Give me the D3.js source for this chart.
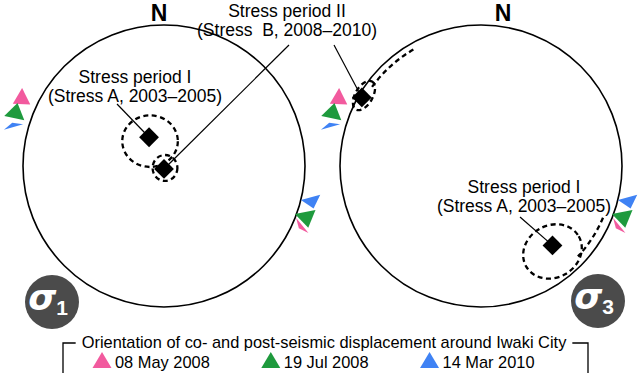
<!DOCTYPE html>
<html>
<head>
<meta charset="utf-8">
<script src="https://cdn.jsdelivr.net/npm/d3@7"></script>
<style>
  body { margin: 0; background: #fff; }
  svg { display: block; font-family: "Liberation Sans", Arial, sans-serif; }
</style>
</head>
<body>
<svg id="chart" width="640" height="373"></svg>
<script>
// Stereonet stress orientations (unit-circle coordinates, y up)
const periodNames = ['Stress period I', 'Stress period II'];
const periodStress = ['(Stress A, 2003\u20132005)', '(Stress  B, 2008\u20132010)'];
const sigma1Points = [[-0.106, 0.204], [0.0, -0.021]];
const sigma3Points = [[0.507, -0.563], [-0.845, 0.486]];
// error ellipses: [cx, cy, rx, ry, rotation]
const sigma1Errors = [[-0.099, 0.176, 0.197, 0.183, 0], [0.007, -0.014, 0.088, 0.092, 0]];
const sigma3Errors = [[0.507, -0.606, 0.215, 0.185, -30], [-0.83, 0.5, 0.115, 0.062, -60]];
// wrapped parts of the sigma3 error ellipses along the primitive circle: [az0, az1, radius]
const sigma3Arcs = [[-54, -29, 0.955], [113, 133, 0.94]];

// displacement orientation glyphs (same in both panels)
const dispDates = ['08 May 2008', '19 Jul 2008', '14 Mar 2010'];
const dispColors = ['#f25a9e', '#1e9a3d', '#3f82f4'];
// [event index, azimuth, distance, base width, height, rotation]
const dispGlyphs = [
  [0, -64.7, 1.116, 17.5, 16, 2],
  [1, -70.4, 1.119, 20.5, 15.5, 12],
  [2, -75.0, 1.108, 20, 4.5, -16],
  [2, 103.4, 1.076, 20, 11.5, 165],
  [1, 109.8, 1.072, 21, 16, 169],
  [0, 113.8, 1.063, 19.5, 4.5, 231]
];

const svg = d3.select('#chart');
const R = 141;
const panels = [
  { cx: 164, cy: 166, sub: '1', points: sigma1Points, errors: sigma1Errors, arcs: [], nx: 159, badge: [52, 302] },
  { cx: 481, cy: 166, sub: '3', points: sigma3Points, errors: sigma3Errors, arcs: sigma3Arcs, nx: 503, badge: [598, 301] }
];

panels.forEach(p => {
  const x = d3.scaleLinear().domain([-1, 1]).range([p.cx - R, p.cx + R]);
  const y = d3.scaleLinear().domain([-1, 1]).range([p.cy + R, p.cy - R]);
  p.x = x; p.y = y;
  const g = svg.append('g');

  g.append('circle')
    .attr('cx', x(0)).attr('cy', y(0)).attr('r', R)
    .attr('fill', 'none').attr('stroke', '#000').attr('stroke-width', 1.6);

  g.append('text')
    .attr('x', p.nx).attr('y', 21)
    .attr('text-anchor', 'middle')
    .attr('font-size', 23).attr('font-weight', 'bold')
    .text('N');

  // error ellipses
  g.selectAll('.err').data(p.errors).enter().append('ellipse')
    .attr('transform', d => `translate(${x(d[0])},${y(d[1])}) rotate(${d[4]})`)
    .attr('rx', d => x(d[2]) - x(0))
    .attr('ry', d => x(d[3]) - x(0))
    .attr('fill', 'none').attr('stroke', '#000')
    .attr('stroke-width', 2.3).attr('stroke-dasharray', '5,3.5');

  g.selectAll('.wrap').data(p.arcs).enter().append('path')
    .attr('d', d => {
      const rr = x(d[2]) - x(0);
      const pa = d3.path();
      const a0 = (d[0] - 90) * Math.PI / 180, a1 = (d[1] - 90) * Math.PI / 180;
      pa.moveTo(x(0) + rr * Math.cos(a0), y(0) + rr * Math.sin(a0));
      pa.arc(x(0), y(0), rr, a0, a1);
      return pa.toString();
    })
    .attr('fill', 'none').attr('stroke', '#000')
    .attr('stroke-width', 2.3).attr('stroke-dasharray', '5,3.5');

  // displacement glyphs
  g.selectAll('.disp').data(dispGlyphs).enter().append('path')
    .attr('transform', d => {
      const a = d[1] * Math.PI / 180;
      return `translate(${x(Math.sin(a) * d[2])},${y(Math.cos(a) * d[2])}) rotate(${d[5]})`;
    })
    .attr('d', d => `M0,${-d[4] * 2 / 3}L${d[3] / 2},${d[4] / 3}L${-d[3] / 2},${d[4] / 3}Z`)
    .attr('fill', d => dispColors[d[0]]);

  // sigma badge
  g.append('circle')
    .attr('cx', p.badge[0]).attr('cy', p.badge[1]).attr('r', 27)
    .attr('fill', '#4b4b4b');
  const t = g.append('text')
    .attr('x', p.badge[0] - 4).attr('y', p.badge[1] + 8)
    .attr('text-anchor', 'middle')
    .attr('fill', '#fff').attr('font-weight', 'bold');
  t.append('tspan').attr('font-size', 36).attr('font-style', 'italic')
    .attr('font-family', '"DejaVu Sans", sans-serif').text('\u03c3');
  t.append('tspan').attr('font-size', 21).attr('dy', 5).text(p.sub);
});

// leader lines: [panel, period, leader x, leader y]
const leaders = [
  [0, 0, 117, 104],
  [1, 0, 520, 217],
  [0, 1, 289, 45],
  [1, 1, 334, 45]
];
leaders.forEach(l => {
  const p = panels[l[0]];
  const pt = p.points[l[1]];
  svg.append('line')
    .attr('x1', l[2]).attr('y1', l[3])
    .attr('x2', p.x(pt[0])).attr('y2', p.y(pt[1]))
    .attr('stroke', '#000').attr('stroke-width', 1.2);
});
[[0, 135, 83], [1, 287, 17], [0, 524, 193]].forEach(l => {
  const t = svg.append('text').attr('text-anchor', 'middle').attr('font-size', 17.5)
    .style('white-space', 'pre');
  t.append('tspan').attr('x', l[1]).attr('y', l[2]).text(periodNames[l[0]]);
  t.append('tspan').attr('x', l[1]).attr('y', l[2] + 19).text(periodStress[l[0]]);
});

// diamonds
panels.forEach(p => {
  svg.selectAll(null).data(p.points).enter().append('rect')
    .attr('x', -7).attr('y', -7).attr('width', 14).attr('height', 14)
    .attr('transform', d => `translate(${p.x(d[0])},${p.y(d[1])}) rotate(45)`)
    .attr('fill', '#000');
});

// legend
const lg = svg.append('g');
const title = lg.append('text')
  .attr('x', 324).attr('y', 348).attr('text-anchor', 'middle').attr('font-size', 16.4)
  .text('Orientation of co- and post-seismic displacement around Iwaki City');
const tw = title.node().getComputedTextLength();
const boxL = 63, boxR = 588, boxT = 343;
lg.append('path')
  .attr('d', `M${324 - tw / 2 - 6},${boxT}H${boxL}V374M${324 + tw / 2 + 6},${boxT}H${boxR}V374`)
  .attr('fill', 'none').attr('stroke', '#000').attr('stroke-width', 1.3);

let lx = 93;
dispDates.forEach((d, i) => {
  lg.append('path')
    .attr('d', `M${lx + 9},352L${lx + 18.5},368L${lx - 0.5},368Z`)
    .attr('fill', dispColors[i]);
  const txt = lg.append('text').attr('x', lx + 22).attr('y', 368).attr('font-size', 16.4).text(d);
  lx += 22 + txt.node().getComputedTextLength() + 52;
});
</script>
</body>
</html>
